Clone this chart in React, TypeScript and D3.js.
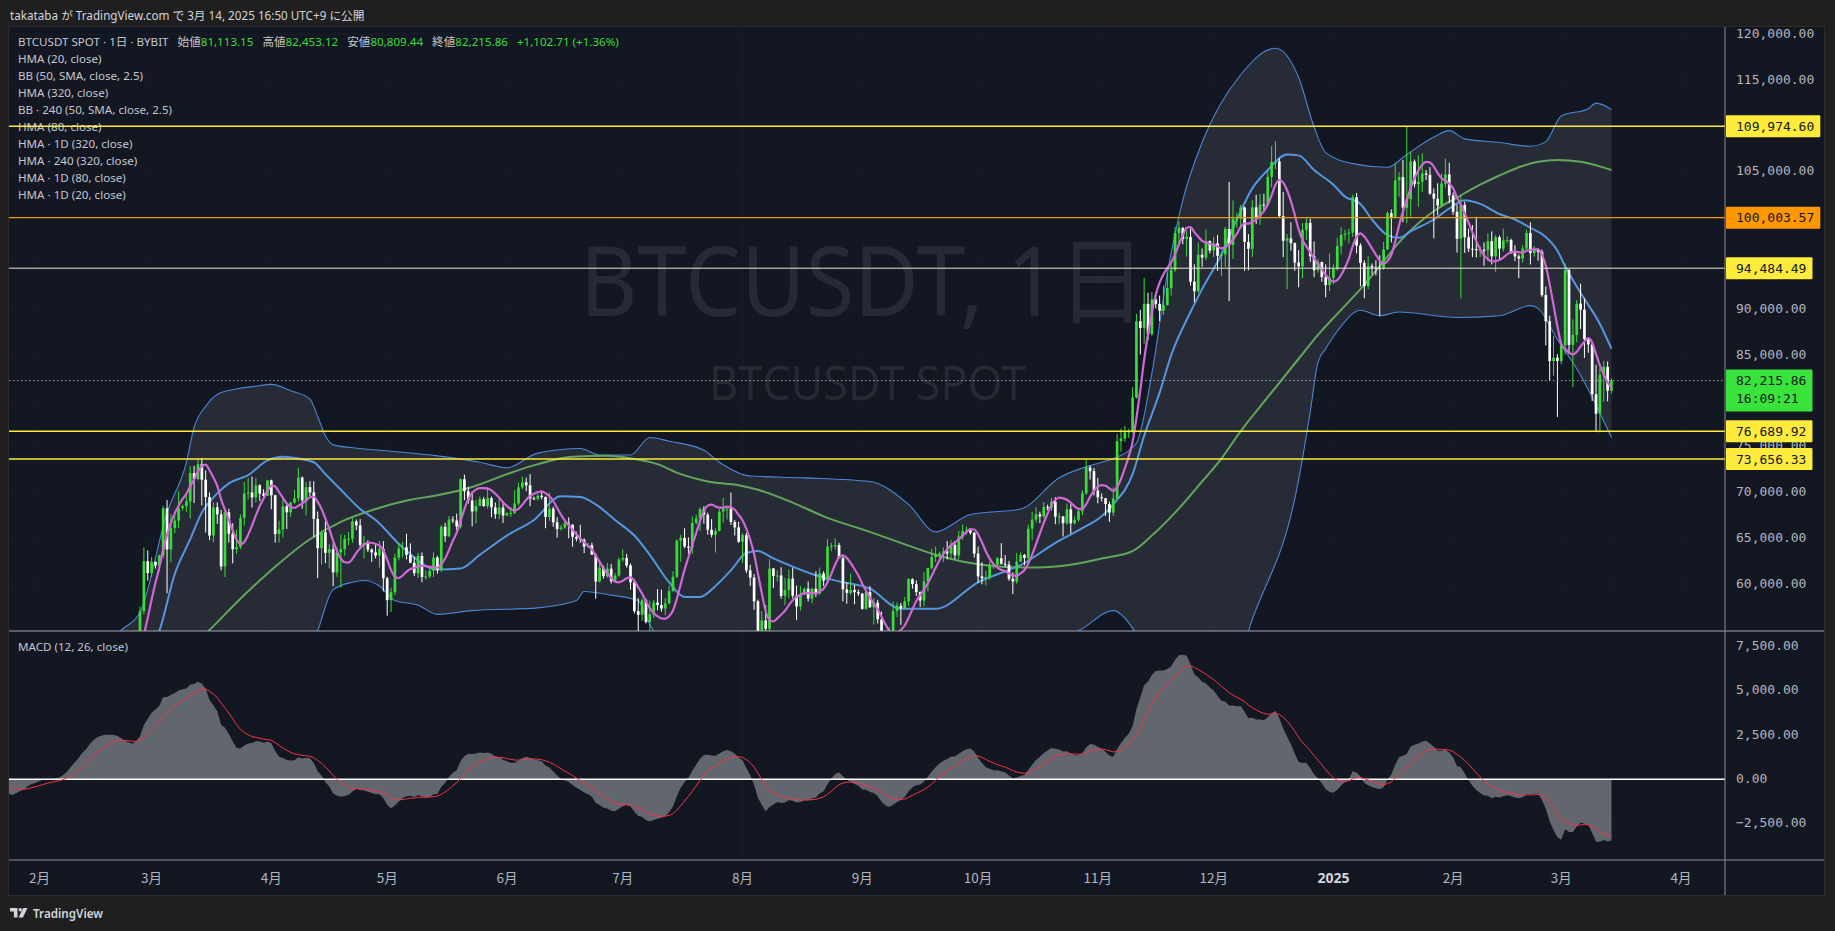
import React, { useEffect } from "react";
import * as d3 from "d3";

// ================= DATA (prices in thousands of USDT) =================
const priorStart = "2023-12-01";
// daily closes before the first drawn candle (used for indicator warm-up)
const priorCloses = [
  38.69, 39.47, 39.97, 41.98, 44.08, 43.77, 43.29, 44.17, 43.72, 43.79, 41.24, 41.45, 42.89, 43.02, 41.93, 42.24,
  41.36, 42.66, 42.27, 43.65, 43.86, 43.99, 43.72, 43.01, 43.57, 42.51, 43.44, 42.58, 42.07, 42.14, 42.28,
  44.18, 44.95, 42.85, 44.18, 44.16, 43.97, 43.93, 46.97, 46.12, 46.66, 46.34, 42.78, 42.84, 41.73, 42.51, 43.15,
  42.74, 41.26, 41.62, 41.66, 41.58, 39.57, 39.9, 40.08, 39.94, 41.82, 42.12, 42.03, 43.3, 42.94, 42.58,
  43.08, 43.19, 43.0, 42.58, 42.66, 43.09, 44.34, 45.29, 47.13, 47.75, 48.29, 49.96, 49.7, 51.8, 51.92, 52.13,
  51.65, 52.12, 51.78, 52.26, 51.85, 51.3, 50.73,
];

const candleStart = "2024-02-24";
// [close, high, low]; open = previous close
const feb2024 = [[51.57,51.7,50.58],[51.73,51.95,51.28],[54.48,54.91,50.9],[57.04,57.55,54.45],[62.5,64.0,56.7],[61.2,63.68,60.38]];
const mar2024 = [[62.43,62.94,60.8],[62.03,62.49,61.7],[63.14,63.23,61.37],[68.27,68.54,62.8],[63.78,69.17,59.0],[66.11,67.64,62.39],[66.93,67.97,65.55],[68.3,70.14,66.13],[68.5,68.67,68.01],[69.02,70.0,67.88],[72.12,72.86,67.19],[71.48,72.91,68.85],[73.08,73.65,71.33],[71.4,73.78,68.6],[69.5,72.4,65.63],[65.3,70.0,64.8],[68.39,68.94,64.56],[67.61,68.92,66.58],[61.93,68.11,61.5],[67.84,68.1,60.77],[65.5,68.22,64.53],[63.8,66.65,62.26],[64.04,65.95,63.3],[67.21,67.62,63.8],[69.89,71.15,66.39],[69.99,71.58,69.25],[69.47,71.73,68.35],[70.78,71.55,68.9],[69.89,70.9,69.06],[69.64,70.35,69.53],[71.33,71.37,69.6]];
const apr2024 = [[69.7,71.4,68.17],[65.46,69.75,64.52],[65.96,66.92,64.52],[68.49,69.28,65.08],[67.84,68.7,66.0],[68.9,69.0,67.33],[69.36,70.3,68.8],[71.62,72.72,69.0],[69.14,71.75,68.22],[70.59,71.15,67.5],[70.01,71.25,69.57],[67.12,71.23,65.1],[63.92,67.93,60.66],[65.66,65.83,62.13],[63.42,66.87,62.3],[63.81,64.35,61.71],[61.28,64.46,59.77],[63.47,64.0,60.8],[63.82,65.45,59.6],[64.94,65.37,63.1],[64.94,65.7,64.26],[66.84,67.2,64.51],[66.41,67.05,65.9],[64.28,67.1,63.83],[64.49,65.25,62.8],[63.77,64.79,63.5],[63.46,63.9,62.42],[63.12,64.3,62.8],[63.84,64.7,61.8],[60.64,64.7,59.2]];
const may2024 = [[58.25,60.8,56.55],[59.12,59.6,56.94],[62.89,63.3,58.8],[63.89,64.5,62.58],[64.01,64.6,62.9],[63.17,65.5,62.7],[62.33,64.45,62.3],[61.19,62.98,60.88],[63.07,63.42,60.65],[60.79,63.46,60.2],[60.83,61.5,60.5],[61.46,61.82,60.63],[62.9,63.45,60.76],[61.55,63.1,61.13],[66.25,66.45,61.32],[65.23,66.7,64.6],[67.05,67.44,65.12],[66.94,67.4,66.65],[66.28,67.7,65.85],[71.45,71.52,66.06],[70.14,71.95,69.16],[69.12,70.62,68.8],[67.93,70.08,66.3],[68.53,69.2,66.6],[69.27,69.56,68.5],[68.52,69.5,68.45],[69.39,70.6,68.25],[68.37,69.55,67.3],[67.63,68.9,67.12],[68.35,69.5,67.1],[67.49,69.0,66.67]];
const jun2024 = [[67.75,67.85,67.44],[67.77,68.4,67.32],[68.8,70.27,67.63],[70.55,71.06,68.59],[71.11,71.74,70.38],[70.79,71.63,70.15],[69.35,71.99,68.5],[69.31,69.56,69.21],[69.65,69.86,69.13],[69.51,70.15,69.23],[67.32,69.57,66.1],[68.24,69.98,66.89],[66.75,68.45,66.27],[66.01,67.3,65.08],[66.19,66.46,65.85],[66.64,66.98,66.05],[66.49,67.28,65.0],[65.15,66.5,64.08],[64.96,65.73,64.67],[64.83,66.47,64.5],[64.1,64.99,63.38],[64.25,64.5,63.95],[63.21,64.52,63.18],[60.28,63.37,58.4],[61.8,62.4,60.2],[60.86,62.0,60.6],[61.68,62.3,60.7],[60.32,62.2,60.06],[60.93,61.2,60.3],[62.68,62.89,60.8]];
const jul2024 = [[62.85,63.8,62.45],[62.03,63.3,61.8],[60.2,62.25,59.4],[57.05,60.48,56.8],[56.64,58.47,53.48],[58.24,58.45,56.0],[55.86,58.4,55.7],[56.71,58.2,54.3],[57.99,58.28,56.3],[57.72,59.46,57.15],[57.34,59.4,57.0],[57.9,58.5,56.6],[59.22,59.8,57.77],[60.8,61.4,59.2],[64.74,64.86,60.65],[65.04,65.38,62.43],[64.09,66.1,63.9],[63.97,65.1,63.3],[66.68,67.38,63.3],[67.15,67.6,66.5],[68.17,68.38,65.8],[67.58,68.5,66.6],[65.93,67.8,65.4],[65.37,67.1,65.1],[65.8,66.1,63.45],[67.91,68.2,65.75],[68.25,69.4,66.7],[68.25,68.3,67.05],[66.78,70.0,66.45],[66.19,67.0,65.3],[64.62,66.8,64.5]];
const aug2024 = [[65.35,65.6,62.3],[61.5,65.6,61.2],[60.7,62.1,59.8],[58.12,61.1,57.2],[54.02,58.3,49.0],[56.03,57.05,53.98],[55.12,57.7,54.6],[61.71,62.7,54.75],[60.88,61.75,59.58],[60.94,61.5,60.3],[58.71,61.85,58.4],[59.35,60.7,57.7],[60.6,61.6,58.5],[58.74,61.8,58.45],[57.56,59.85,56.1],[58.87,59.8,57.1],[59.49,59.65,58.8],[58.43,60.28,58.1],[59.49,59.6,57.9],[59.01,61.4,58.6],[61.16,61.8,58.78],[60.38,61.4,59.78],[64.09,64.9,60.3],[64.18,64.5,63.6],[64.25,65.0,63.8],[62.83,64.5,62.8],[59.42,63.2,58.1],[59.03,60.2,57.85],[59.37,61.15,58.8],[59.12,59.9,57.8],[58.97,59.4,58.7]];
const sep2024 = [[57.3,59.0,57.2],[59.13,59.4,57.2],[57.48,59.8,57.4],[57.97,58.5,55.6],[56.16,58.3,55.7],[53.95,57.0,52.55],[54.16,54.85,53.75],[54.87,55.3,53.65],[57.05,58.1,54.6],[57.64,58.0,56.4],[57.34,57.95,55.55],[58.13,58.6,57.33],[60.54,60.65,57.63],[60.0,60.63,59.5],[59.13,60.4,58.7],[58.21,59.2,57.5],[60.31,61.32,57.6],[61.76,61.8,59.2],[62.95,63.85,61.6],[63.2,64.1,62.38],[63.35,63.55,62.75],[63.58,64.0,62.4],[63.34,64.7,62.7],[64.26,64.8,62.7],[63.14,64.7,62.7],[65.18,65.8,62.7],[65.79,66.5,64.8],[65.89,66.26,65.43],[65.6,66.07,65.4],[63.33,65.7,62.9]];
const oct2024 = [[60.84,64.1,60.17],[60.63,62.38,59.98],[60.75,61.47,59.85],[62.07,62.48,60.48],[62.09,62.36,61.68],[62.82,62.96,61.85],[62.22,64.47,62.14],[62.13,63.17,61.85],[60.58,62.54,60.35],[60.28,61.3,58.9],[62.45,63.4,60.05],[63.19,63.45,62.42],[62.85,63.28,62.05],[66.05,66.48,62.45],[67.04,67.9,64.8],[67.61,68.4,66.72],[67.38,67.92,66.65],[68.43,68.97,67.16],[68.36,68.67,68.04],[69.0,69.4,67.98],[67.37,69.5,66.54],[67.38,67.8,66.57],[66.65,67.45,65.2],[68.16,68.8,66.48],[66.64,68.77,65.52],[67.01,67.39,66.5],[67.96,68.3,66.8],[69.91,70.25,67.52],[72.73,73.62,69.73],[72.33,72.95,71.41],[70.22,72.69,69.68]];
const nov2024 = [[69.48,71.6,68.82],[69.37,69.9,69.02],[68.73,69.4,67.45],[67.81,69.0,66.79],[69.35,70.57,67.45],[75.61,76.4,69.3],[75.9,76.96,74.45],[76.55,77.25,75.55],[76.68,76.95,75.95],[80.37,81.5,76.5],[88.7,89.5,80.22],[87.96,89.94,85.07],[90.59,93.43,86.25],[87.29,91.8,86.65],[91.07,91.85,87.1],[90.59,91.8,90.09],[89.84,91.5,88.7],[90.46,92.6,89.38],[92.31,94.0,90.4],[94.29,94.9,91.5],[98.33,98.99,94.1],[98.89,99.59,97.2],[97.67,98.95,97.1],[97.9,98.6,95.75],[93.01,98.8,92.6],[91.97,94.9,90.77],[95.96,97.3,91.8],[95.65,96.65,94.65],[97.46,98.7,95.35],[96.41,97.5,96.1]];
const dec2024 = [[97.19,97.9,95.7],[95.84,98.12,94.2],[96.0,96.3,93.6],[98.77,99.0,94.65],[97.01,103.9,90.9],[99.86,101.9,95.5],[99.9,100.55,98.9],[101.11,101.4,98.75],[97.35,101.2,94.2],[96.59,98.2,94.25],[101.13,101.9,95.7],[100.0,102.5,99.3],[101.42,102.6,99.2],[101.4,102.6,100.6],[104.45,105.2,101.2],[106.06,107.8,103.3],[106.14,108.35,105.3],[100.18,106.5,100.0],[97.48,102.8,95.7],[97.75,98.2,92.2],[97.22,99.5,96.4],[95.1,97.3,94.2],[94.68,96.45,92.4],[98.68,99.4,93.4],[99.43,99.96,97.6],[95.79,99.9,95.15],[94.27,97.4,93.5],[95.16,95.5,94.0],[93.53,95.2,93.0],[92.64,94.9,91.3],[93.43,96.1,92.0]];
const jan2025 = [[94.42,94.9,92.75],[96.89,97.8,94.2],[98.11,98.95,96.0],[98.24,98.7,97.5],[98.36,98.8,97.2],[102.24,102.5,97.9],[96.95,102.7,96.1],[95.06,97.2,92.5],[92.53,95.35,91.2],[94.72,95.8,92.2],[94.56,95.0,93.8],[94.5,95.35,93.7],[94.49,95.9,89.25],[96.53,97.35,94.3],[100.5,100.7,96.5],[99.99,100.9,97.3],[104.08,105.9,99.95],[104.43,104.95,102.3],[101.09,106.3,99.5],[102.02,109.97,99.4],[106.15,107.2,100.1],[103.65,106.35,103.3],[103.92,106.8,101.2],[104.82,107.0,102.8],[104.69,105.2,104.1],[102.62,105.5,102.5],[102.07,103.2,97.75],[101.33,103.75,100.3],[103.73,104.8,101.3],[104.73,106.45,103.3],[102.43,106.0,101.6]];
const feb2025 = [[100.64,102.75,100.3],[97.69,101.45,96.2],[101.4,102.5,91.2],[97.87,101.75,96.15],[96.62,98.8,96.25],[96.55,99.2,95.7],[96.48,100.1,95.65],[96.5,96.9,95.7],[96.45,97.3,94.75],[97.42,98.3,95.25],[95.78,98.5,94.9],[97.87,98.1,94.1],[96.62,98.05,95.3],[97.51,98.8,96.3],[97.57,97.95,97.2],[96.12,97.7,96.05],[95.77,97.0,95.25],[95.54,96.0,93.4],[96.63,97.0,95.1],[98.33,98.7,96.4],[96.13,99.5,94.9],[96.55,96.9,95.75],[96.27,96.65,95.3],[91.55,96.5,91.35],[88.7,92.5,86.05],[84.34,89.3,82.25],[84.71,87.1,82.75],[84.35,85.1,78.25]];
const mar2025 = [[86.06,86.5,84.0],[94.27,95.0,85.05],[86.12,94.4,85.1],[87.22,88.9,81.5],[90.62,91.0,86.4],[89.96,92.8,87.85],[86.74,91.2,84.7],[86.15,86.9,85.25],[80.73,86.5,80.0],[78.6,83.95,76.6],[82.86,83.6,76.55],[83.72,84.35,79.95],[81.11315,84.3,79.95],[82.21586,82.45312,80.80944]];

// Indicator lines: [date, value]
const bbUpper: [string, number][] = [
  ["2024-01-20",48.5],["2024-02-10",49.5],["2024-02-18",52.8],["2024-02-22",54.9],["2024-02-27",56.9],["2024-03-05",67.8],
  ["2024-03-10",73.3],["2024-03-12",77.1],["2024-03-15",79.4],["2024-03-18",80.7],["2024-03-23",81.3],["2024-03-28",81.6],
  ["2024-04-01",81.8],["2024-04-06",81.1],["2024-04-11",80.2],["2024-04-13",78.3],["2024-04-15",76.2],["2024-04-17",75.2],
  ["2024-04-24",74.8],["2024-05-02",74.5],["2024-05-14",74.0],["2024-05-25",73.3],["2024-06-01",72.7],["2024-06-09",74.3],
  ["2024-06-20",74.8],["2024-06-25",74.1],["2024-07-03",74.1],["2024-07-08",76.0],["2024-07-13",75.6],["2024-07-22",74.6],
  ["2024-07-26",73.3],["2024-08-03",71.8],["2024-08-17",71.6],["2024-09-03",71.2],["2024-09-13",68.7],["2024-09-20",65.7],
  ["2024-09-29",67.6],["2024-10-12",68.2],["2024-10-22",71.6],["2024-11-02",73.3],["2024-11-05",73.7],["2024-11-11",75.4],
  ["2024-11-15",83.0],["2024-11-19",93.9],["2024-11-23",101.9],["2024-11-28",108.2],["2024-12-08",115.6],["2024-12-17",118.5],
  ["2024-12-23",115.3],["2024-12-27",109.9],["2024-12-30",107.1],["2025-01-06",105.9],["2025-01-15",105.5],["2025-01-20",106.9],
  ["2025-01-27",108.8],["2025-01-31",109.5],["2025-02-04",108.6],["2025-02-13",108.2],["2025-02-21",107.8],["2025-02-25",108.3],
  ["2025-03-01",111.1],["2025-03-08",111.9],["2025-03-10",112.5],["2025-03-14",111.8],
];
const bbLower: [string, number][] = [
  ["2024-01-20",37.5],["2024-02-15",38.0],["2024-03-10",35.0],["2024-03-30",41.0],["2024-04-08",49.0],["2024-04-13",54.9],
  ["2024-04-17",59.4],["2024-04-22",60.2],["2024-04-25",60.4],["2024-04-29",59.8],["2024-05-03",58.2],["2024-05-09",57.7],
  ["2024-05-14",56.7],["2024-05-23",57.1],["2024-06-09",57.4],["2024-06-19",58.2],["2024-06-21",59.2],["2024-06-28",58.8],
  ["2024-07-05",58.2],["2024-07-07",56.5],["2024-07-09",54.9],["2024-07-20",52.5],["2024-08-20",50.0],["2024-09-20",51.0],
  ["2024-10-15",53.5],["2024-10-27",54.9],["2024-11-05",57.1],["2024-11-10",55.2],["2024-11-15",51.0],["2024-11-25",45.0],
  ["2024-12-05",48.0],["2024-12-10",54.9],["2024-12-23",71.4],["2024-12-26",78.8],["2024-12-28",84.2],["2024-12-30",85.7],
  ["2025-01-02",87.6],["2025-01-08",89.9],["2025-01-13",89.3],["2025-01-18",89.7],["2025-02-02",89.1],["2025-02-13",89.3],
  ["2025-02-21",90.4],["2025-02-23",90.1],["2025-02-28",86.7],["2025-03-06",82.8],["2025-03-09",80.4],["2025-03-14",76.0],
];
const hma80: [string, number][] = [
  ["2024-01-20",40.5],["2024-02-15",46.5],["2024-02-25",51.0],["2024-03-03",54.9],["2024-03-07",61.1],["2024-03-11",64.9],
  ["2024-03-14",67.8],["2024-03-18",69.9],["2024-03-21",71.0],["2024-03-26",71.9],["2024-03-31",73.5],["2024-04-04",73.9],
  ["2024-04-08",73.7],["2024-04-12",73.3],["2024-04-15",72.0],["2024-04-19",70.3],["2024-04-24",68.2],["2024-04-28",67.0],
  ["2024-05-05",64.0],["2024-05-14",61.6],["2024-05-20",61.7],["2024-05-25",63.2],["2024-06-01",65.3],["2024-06-08",67.0],
  ["2024-06-15",69.6],["2024-06-20",69.5],["2024-06-24",68.7],["2024-06-29",67.0],["2024-07-04",65.3],["2024-07-08",63.2],
  ["2024-07-13",60.2],["2024-07-17",58.6],["2024-07-21",58.6],["2024-07-25",59.8],["2024-07-29",61.5],["2024-08-02",63.4],
  ["2024-08-05",63.6],["2024-08-09",62.8],["2024-08-14",61.9],["2024-08-19",61.1],["2024-08-26",60.3],["2024-09-03",59.5],
  ["2024-09-11",57.3],["2024-09-20",57.3],["2024-10-01",60.2],["2024-10-13",62.3],["2024-10-21",64.5],["2024-10-28",66.1],
  ["2024-11-02",67.4],["2024-11-05",68.7],["2024-11-10",72.0],["2024-11-13",76.2],["2024-11-17",80.9],["2024-11-20",85.0],
  ["2024-11-25",89.7],["2024-11-28",92.2],["2024-12-03",96.0],["2024-12-07",99.8],["2024-12-11",103.2],["2024-12-15",105.2],
  ["2024-12-20",106.9],["2024-12-23",106.8],["2024-12-27",105.2],["2025-01-01",103.6],["2025-01-04",102.3],["2025-01-08",101.5],
  ["2025-01-11",99.8],["2025-01-15",98.1],["2025-01-18",97.8],["2025-01-21",98.5],["2025-01-27",99.8],["2025-01-31",101.0],
  ["2025-02-04",101.9],["2025-02-08",101.5],["2025-02-13",100.4],["2025-02-17",99.8],["2025-02-21",98.9],["2025-02-25",97.9],
  ["2025-02-28",96.4],["2025-03-02",94.7],["2025-03-06",91.8],["2025-03-11",88.4],["2025-03-14",85.7],
];
const hma320: [string, number][] = [
  ["2024-01-20",38.0],["2024-02-20",45.5],["2024-03-07",51.5],["2024-03-16",55.0],["2024-03-24",58.4],["2024-04-02",61.9],
  ["2024-04-11",64.9],["2024-04-19",66.8],["2024-04-28",68.2],["2024-05-07",69.2],["2024-05-14",69.7],["2024-05-23",70.6],
  ["2024-06-01",72.0],["2024-06-09",73.1],["2024-06-18",73.9],["2024-06-27",74.0],["2024-07-02",73.8],["2024-07-10",73.1],
  ["2024-07-16",72.0],["2024-07-23",71.2],["2024-07-31",70.8],["2024-08-05",70.3],["2024-08-14",68.9],["2024-08-22",67.4],
  ["2024-09-03",65.7],["2024-09-11",64.5],["2024-09-20",63.2],["2024-09-29",62.3],["2024-10-07",61.9],["2024-10-16",61.8],
  ["2024-10-25",62.1],["2024-11-02",62.8],["2024-11-10",63.6],["2024-11-15",65.3],["2024-11-21",67.8],["2024-11-28",71.2],
  ["2024-12-03",73.7],["2024-12-08",76.7],["2024-12-15",80.4],["2024-12-23",84.6],["2024-12-28",87.2],["2025-01-02",89.5],
  ["2025-01-08",92.2],["2025-01-13",94.7],["2025-01-18",97.3],["2025-01-23",99.4],["2025-01-28",101.0],["2025-02-02",102.2],
  ["2025-02-08",103.6],["2025-02-13",104.6],["2025-02-18",105.5],["2025-02-23",106.1],["2025-02-28",106.3],["2025-03-06",106.1],
  ["2025-03-11",105.6],["2025-03-14",105.2],
];

const priceTicks = [60, 65, 70, 75, 80, 85, 90, 95, 100, 105, 110, 115, 120];
const macdTicks = [-2.5, 0, 2.5, 5, 7.5];
const levelValues = [109.9746, 100.00357, 94.48449, 76.68992, 73.65633];
const lastPrice = 82.21586;
const lastCountdown = "16:09:21";
const monthRange = ["2024-02-01", "2025-04-01"];
const legendLines = [
  "HMA (20, close)", "BB (50, SMA, close, 2.5)", "HMA (320, close)", "BB · 240 (50, SMA, close, 2.5)",
  "HMA (80, close)", "HMA · 1D (320, close)", "HMA · 240 (320, close)", "HMA · 1D (80, close)", "HMA · 1D (20, close)",
];
const ohlcLabels = ["始値", "高値", "安値", "終値"];
const ohlcValues = ["81,113.15", "82,453.12", "80,809.44", "82,215.86"];
const changeText = "+1,102.71 (+1.36%)";
const headerText = "takataba が TradingView.com で 3月 14, 2025 16:50 UTC+9 に公開";

// ================= HELPERS =================
const parse = d3.utcParse("%Y-%m-%d");
const dOf = (s: string) => parse(s) as Date;

function wmaAt(arr: number[], n: number, i: number) {
  if (i < n - 1) return NaN;
  let num = 0, den = 0;
  for (let k = 0; k < n; k++) { const w = n - k; num += w * arr[i - k]; den += w; }
  return num / den;
}
function ema(arr: number[], n: number) {
  const a = 2 / (n + 1);
  const out: number[] = [];
  arr.forEach((v, i) => out.push(i === 0 ? v : a * v + (1 - a) * out[i - 1]));
  return out;
}

const BG = "#131722";
const OUTER = "#1f1f1f";
const GREEN = "#38dd38";
const AXIS_TXT = "#b2b5be";
const MONO = "'DejaVu Sans Mono', monospace";
const SANS = "'Noto Sans', 'Noto Sans CJK JP', sans-serif";
const LEVEL_COLORS = ["#ffeb3b", "#ff9800", "#ffeb3b", "#ffeb3b", "#ffeb3b"];
const LEVEL_LINE_COLORS = ["#ffeb3b", "#ff9800", "#e8e6cf", "#ffeb3b", "#ffeb3b"];
const LEVEL_LINE_W = [1.4, 1.2, 1, 1.4, 1.4];

export default function App() {
  useEffect(() => {
    document.body.style.margin = "0";
    document.body.style.background = OUTER;
  }, []);

  const L = 9, R = 1725, AX = 1824, T = 27, MB = 631, MACDB = 860, TB = 895;

  const x = d3.scaleUtc().domain([dOf(monthRange[0]), dOf(monthRange[1])]).range([39.6, 1681]);
  const y = d3.scaleLinear().domain([73.65633, 109.9746]).range([459, 126.3]);
  const ym = d3.scaleLinear().domain([-2.5, 7.5]).range([823.6, 646.4]);

  // candles
  const blocks = [feb2024, mar2024, apr2024, may2024, jun2024, jul2024, aug2024, sep2024, oct2024, nov2024, dec2024, jan2025, feb2025, mar2025];
  const rows = blocks.flat();
  const start = dOf(candleStart);
  const candles = rows.map((r, i) => ({
    date: d3.utcDay.offset(start, i),
    open: i === 0 ? priorCloses[priorCloses.length - 1] : rows[i - 1][0],
    close: r[0], high: r[1], low: r[2],
  }));

  // indicators computed from closes
  const allCloses = [...priorCloses, ...rows.map((r) => r[0])];
  const s0 = dOf(priorStart);
  const dateAt = (i: number) => d3.utcDay.offset(s0, i);
  const raw = allCloses.map((_, i) => 2 * wmaAt(allCloses, 10, i) - wmaAt(allCloses, 20, i));
  const hma20: [Date, number][] = [];
  raw.forEach((_, i) => {
    if (i >= 22) {
      const v = wmaAt(raw, 4, i);
      if (!isNaN(v)) hma20.push([dateAt(i), v]);
    }
  });
  const e12 = ema(allCloses, 12), e26 = ema(allCloses, 26);
  const macd = allCloses.map((_, i) => e12[i] - e26[i]);
  const sig = ema(macd, 9);
  const macdPts = macd.map((v, i) => [dateAt(i), v] as [Date, number]).filter((p) => p[0] >= dOf("2024-01-15"));
  const sigPts = sig.map((v, i) => [dateAt(i), v] as [Date, number]).filter((p) => p[0] >= dOf("2024-01-15"));

  const lineS = d3.line<[string, number]>().x((d) => x(dOf(d[0]))).y((d) => y(d[1])).curve(d3.curveMonotoneX);
  const areaUnder = d3.area<[string, number]>().x((d) => x(dOf(d[0]))).y0(1000).y1((d) => y(d[1])).curve(d3.curveMonotoneX);
  const lineD = d3.line<[Date, number]>().x((d) => x(d[0])).y((d) => y(d[1])).curve(d3.curveMonotoneX);
  const macdArea = d3.area<[Date, number]>().x((d) => x(d[0])).y0(ym(0)).y1((d) => ym(d[1]));
  const macdLine = d3.line<[Date, number]>().x((d) => x(d[0])).y((d) => ym(d[1]));

  const fmt = d3.format(",.2f");
  const months = d3.utcMonth.range(dOf(monthRange[0]), d3.utcDay.offset(dOf(monthRange[1]), 1));
  const charW = 7.83;

  // tick labels fully covered by a price label box are not drawn (hidden in the reference)
  const boxSpans = [...levelValues.map((v) => [y(v) - 11, y(v) + 11]), [y(lastPrice) - 11, y(lastPrice) + 31]];
  const visibleTicks = priceTicks.filter((p) => !boxSpans.some(([a, b]) => y(p) - 5 >= a - 1 && y(p) + 5 <= b + 1));

  return (
    <svg width={1835} height={931} style={{ display: "block" }} xmlns="http://www.w3.org/2000/svg">
      <defs>
        <clipPath id="mainClip"><rect x={L} y={T} width={R - L} height={MB - T} /></clipPath>
        <clipPath id="macdClip"><rect x={L} y={MB} width={R - L} height={MACDB - MB} /></clipPath>
        <mask id="bbMask" maskUnits="userSpaceOnUse" x={0} y={0} width={1835} height={931}>
          <path d={areaUnder(bbUpper) || ""} fill="white" />
          <path d={areaUnder(bbLower) || ""} fill="black" />
        </mask>
      </defs>

      <rect x={0} y={0} width={1835} height={931} fill={OUTER} />
      <text x={10} y={19.5} fontFamily={SANS} fontSize={11.7} fill="#d1d4dc">{headerText}</text>

      <rect x={L - 0.5} y={T - 0.5} width={AX - L + 1} height={TB - T + 1} fill={BG} stroke="#2c2c2c" />

      {/* faint grid */}
      <g stroke="#181c27" strokeWidth={1}>
        {months.map((m, i) => (<line key={"vg" + i} x1={x(m)} x2={x(m)} y1={T} y2={MACDB} />))}
        {priceTicks.map((p) => (<line key={"hg" + p} x1={L} x2={R} y1={y(p)} y2={y(p)} />))}
      </g>

      {/* watermark */}
      <text x={580} y={316} fontFamily={SANS} fontSize={96} fill="rgba(178,181,190,0.12)" textLength={566} lengthAdjust="spacingAndGlyphs">BTCUSDT, 1日</text>
      <text x={709} y={400} fontFamily={SANS} fontSize={47} fill="rgba(178,181,190,0.12)" textLength={317} lengthAdjust="spacingAndGlyphs">BTCUSDT SPOT</text>

      <g clipPath="url(#mainClip)">
        <rect x={L} y={T} width={R - L} height={MB - T} fill="rgba(120,123,134,0.2)" mask="url(#bbMask)" />
        <path d={lineS(bbUpper) || ""} fill="none" stroke="#4a86d6" strokeWidth={1.1} />
        <path d={lineS(bbLower) || ""} fill="none" stroke="#4a86d6" strokeWidth={1.1} />
        <path d={lineS(hma320) || ""} fill="none" stroke="#62a65e" strokeWidth={2} />
        <path d={lineS(hma80) || ""} fill="none" stroke="#5596e0" strokeWidth={2} />
        {candles.map((c, i) => {
          const cx = x(c.date);
          const up = c.close >= c.open;
          const col = up ? GREEN : "#ffffff";
          const top = y(Math.max(c.open, c.close));
          const bot = y(Math.min(c.open, c.close));
          return (
            <g key={"c" + i}>
              <line x1={cx} x2={cx} y1={y(c.high)} y2={y(c.low)} stroke={col} strokeWidth={1} />
              <rect x={cx - 1.35} y={top} width={2.7} height={Math.max(1, bot - top)} fill={col} />
            </g>
          );
        })}
        <path d={lineD(hma20) || ""} fill="none" stroke="#d068d6" strokeWidth={2.2} />
        <line x1={L} x2={R} y1={y(lastPrice)} y2={y(lastPrice)} stroke="#a3a6af" strokeWidth={1} strokeDasharray="1.5 2.5" />
      </g>

      {/* legend */}
      <g fontFamily={SANS} fontSize={11.6} fill="#c3c6ce">
        <text x={18} y={45.6}>
          <tspan>BTCUSDT SPOT · 1日 · BYBIT</tspan>
          {ohlcLabels.map((lb, i) => (
            <React.Fragment key={lb}>
              <tspan dx={9}>{lb}</tspan>
              <tspan fill={GREEN}>{ohlcValues[i]}</tspan>
            </React.Fragment>
          ))}
          <tspan dx={9} fill={GREEN}>{changeText}</tspan>
        </text>
        {legendLines.map((t, i) => (
          <text key={t} x={18} y={62.6 + 17 * i}>{t}</text>
        ))}
      </g>

      {/* horizontal levels (drawings on top) */}
      <g clipPath="url(#mainClip)">
        {levelValues.map((v, i) => (
          <line key={"lv" + i} x1={L} x2={R} y1={y(v)} y2={y(v)} stroke={LEVEL_LINE_COLORS[i]} strokeWidth={LEVEL_LINE_W[i]} />
        ))}
      </g>

      {/* MACD */}
      <g clipPath="url(#macdClip)">
        <path d={macdArea(macdPts) || ""} fill="#62666f" />
        <line x1={L} x2={R} y1={ym(0)} y2={ym(0)} stroke="#ffffff" strokeWidth={1.5} />
        <path d={macdLine(sigPts) || ""} fill="none" stroke="#f23645" strokeWidth={1} />
      </g>
      <text x={18} y={651} fontFamily={SANS} fontSize={11.6} fill="#c3c6ce">MACD (12, 26, close)</text>

      {/* panel separators */}
      <line x1={L} x2={AX} y1={MB} y2={MB} stroke="#a3a6af" strokeWidth={1} />
      <line x1={L} x2={AX} y1={MACDB} y2={MACDB} stroke="#8a8d96" strokeWidth={1} />
      <line x1={R} x2={R} y1={T} y2={TB} stroke="#8a8d96" strokeWidth={1} />

      {/* price axis */}
      <g fontFamily={MONO} fontSize={13} fill={AXIS_TXT}>
        {visibleTicks.map((p) => (
          <text key={"pt" + p} x={1736} y={y(p) + 3.5}>{fmt(p * 1000)}</text>
        ))}
        {macdTicks.map((v) => (
          <text key={"mt" + v} x={1736} y={ym(v) + 3.5}>{(v < 0 ? "−" : "") + fmt(Math.abs(v) * 1000)}</text>
        ))}
      </g>
      {levelValues.map((v, i) => {
        const t = fmt(v * 1000);
        return (
          <g key={"lb" + i}>
            <rect x={R + 1} y={y(v) - 11} width={10 + t.length * charW + 6} height={22} fill={LEVEL_COLORS[i]} rx={1} />
            <text x={1736} y={y(v) + 4.5} fontFamily={MONO} fontSize={13} fill="#131722">{t}</text>
          </g>
        );
      })}
      <g>
        <rect x={R + 1} y={y(lastPrice) - 11} width={10 + 9 * charW + 6} height={42} fill="#39e33b" rx={1} />
        <text x={1736} y={y(lastPrice) + 4.5} fontFamily={MONO} fontSize={13} fill="#131722">{fmt(lastPrice * 1000)}</text>
        <text x={1736} y={y(lastPrice) + 22.5} fontFamily={MONO} fontSize={13} fill="#131722">{lastCountdown}</text>
      </g>

      {/* time axis */}
      <g textAnchor="middle">
        {months.map((m, i) => {
          const isYear = m.getUTCMonth() === 0;
          return (
            <text key={"ta" + i} x={x(m)} y={883} fill={isYear ? "#d1d4dc" : AXIS_TXT} fontWeight={isYear ? 700 : 400}
              fontFamily={isYear ? SANS : "'Noto Sans CJK JP', 'Noto Sans', sans-serif"} fontSize={isYear ? 14 : 13.5}>
              {isYear ? String(m.getUTCFullYear()) : `${m.getUTCMonth() + 1}月`}
            </text>
          );
        })}
      </g>

      {/* TradingView logo */}
      <g fill="#d1d4dc">
        <path d="M10 908h7.5v9.5h-3.6v-6.1H10z" />
        <circle cx={20.3} cy={909.7} r={1.7} />
        <path d="M23.2 908h4.3l-4.6 9.5h-4.3z" />
        <text x={33} y={917.5} fontFamily={SANS} fontSize={12.5} fontWeight={600} textLength={70} lengthAdjust="spacingAndGlyphs">TradingView</text>
      </g>
    </svg>
  );
}
